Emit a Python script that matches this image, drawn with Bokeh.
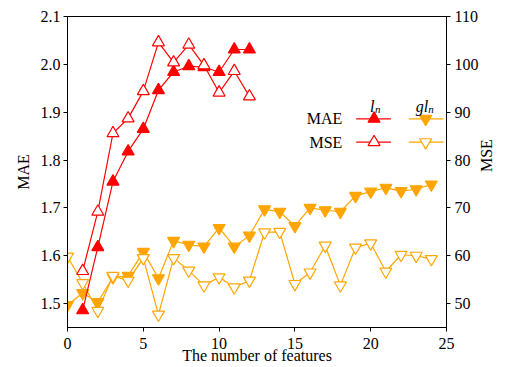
import math
from bokeh.plotting import figure
from bokeh.models import Range1d, LinearAxis, FixedTicker, Label, PrintfTickFormatter
from bokeh.embed import file_html
from bokeh.resources import INLINE

# ---------------- data ----------------
features_ln = [1, 2, 3, 4, 5, 6, 7, 8, 9, 10, 11, 12]
mae_ln = [1.486, 1.618, 1.755, 1.818, 1.865, 1.946, 1.984, 1.996, 1.994, 1.984, 2.031, 2.031]
mse_ln = [56.8, 69.2, 85.6, 88.7, 94.4, 104.6, 100.4, 104.1, 99.8, 94.1, 98.6, 93.3]

features_gln = list(range(0, 25))
mae_gln = [1.497, 1.522, 1.503, 1.555, 1.558, 1.608, 1.553, 1.631, 1.623, 1.619,
           1.658, 1.619, 1.642, 1.697, 1.692, 1.662, 1.700, 1.695, 1.692, 1.725,
           1.734, 1.742, 1.735, 1.739, 1.749]
mse_gln = [59.8, 54.3, 48.5, 55.8, 54.8, 59.5, 47.7, 59.5, 56.9, 53.8,
           55.5, 53.4, 54.8, 64.9, 65.0, 54.1, 56.5, 62.1, 53.8, 61.7,
           62.6, 56.7, 60.2, 60.0, 59.3]

x_ticks = [0, 5, 10, 15, 20, 25]
mae_ticks = [1.5, 1.6, 1.7, 1.8, 1.9, 2.0, 2.1]
mse_ticks = [50, 60, 70, 80, 90, 100, 110]

x_label = "The number of features"
left_label = "MAE"
right_label = "MSE"
row_labels = ["MAE", "MSE"]

RED = "#ff0000"
ORANGE = "#ffa500"
FONT = "Liberation Serif"

X_MIN, X_MAX = 0, 25
MAE_MIN, MAE_MAX = 1.45, 2.1
MSE_MIN, MSE_MAX = 45, 110

# page geometry of the frame (for placing legend decorations)
FL, FR, FT, FB = 67, 449, 16, 327


def dx(px):
    return X_MIN + (px - FL) / (FR - FL) * (X_MAX - X_MIN)


def dy(py):
    return MAE_MAX - (py - FT) / (FB - FT) * (MAE_MAX - MAE_MIN)


p = figure(width=506, height=367,
           x_range=Range1d(X_MIN, X_MAX), y_range=Range1d(MAE_MIN, MAE_MAX),
           output_backend="svg", toolbar_location=None,
           min_border_left=67, min_border_right=57,
           min_border_top=16, min_border_bottom=40)
p.extra_y_ranges = {"mse": Range1d(MSE_MIN, MSE_MAX)}
yr = LinearAxis(y_range_name="mse")
p.add_layout(yr, "right")
xa = p.xaxis[0]
yl = p.yaxis[0]

p.xgrid.visible = False
p.ygrid.visible = False
p.outline_line_color = "black"
p.outline_line_width = 1
p.outline_line_alpha = 1
p.background_fill_color = "white"
p.border_fill_color = "white"

xa.ticker = FixedTicker(ticks=x_ticks)
yl.ticker = FixedTicker(ticks=mae_ticks)
yl.formatter = PrintfTickFormatter(format="%.1f")
yr.ticker = FixedTicker(ticks=mse_ticks)

xa.axis_label = x_label
yl.axis_label = left_label
yr.axis_label = right_label

for ax in (xa, yl, yr):
    ax.major_tick_out = 4
    ax.major_tick_in = 0
    ax.minor_tick_out = 0
    ax.minor_tick_in = 0
    ax.axis_line_color = "black"
    ax.major_tick_line_color = "black"
    ax.major_label_text_font = FONT
    ax.major_label_text_font_size = "16px"
    ax.major_label_text_font_style = "normal"
    ax.major_label_text_color = "black"
    ax.axis_label_text_font = FONT
    ax.axis_label_text_font_size = "16px"
    ax.axis_label_text_font_style = "normal"
    ax.axis_label_text_color = "black"

xa.major_label_standoff = 6
xa.axis_label_standoff = -5
yl.major_label_standoff = 3
yl.axis_label_standoff = 6
yr.major_label_standoff = 4
yr.axis_label_standoff = 5
try:
    yr.axis_label_orientation = math.pi / 2
except Exception:
    pass

LW = 1.2
MS = 12

# gl_n series
p.line(features_gln, mae_gln, line_color=ORANGE, line_width=LW)
p.scatter(features_gln, mae_gln, marker="inverted_triangle", size=MS,
          fill_color=ORANGE, line_color=ORANGE, line_width=LW)
p.line(features_gln, mse_gln, line_color=ORANGE, line_width=LW, y_range_name="mse")
p.scatter(features_gln, mse_gln, marker="inverted_triangle", size=MS,
          fill_color="white", line_color=ORANGE, line_width=LW, y_range_name="mse")

# l_n series
p.line(features_ln, mae_ln, line_color=RED, line_width=LW)
p.scatter(features_ln, mae_ln, marker="triangle", size=MS,
          fill_color=RED, line_color=RED, line_width=LW)
p.line(features_ln, mse_ln, line_color=RED, line_width=LW, y_range_name="mse")
p.scatter(features_ln, mse_ln, marker="triangle", size=MS,
          fill_color="white", line_color=RED, line_width=LW, y_range_name="mse")

# ---- legend table ----
rows_py = [118.3, 141.7]
for ry, lab in zip(rows_py, row_labels):
    p.add_layout(Label(x=dx(344), y=dy(ry), text=lab, text_align="right",
                       text_baseline="middle", text_font=FONT,
                       text_font_size="16px", text_color="black"))
for ry, fill in zip(rows_py, [RED, "white"]):
    p.line([dx(358), dx(393)], [dy(ry), dy(ry)], line_color=RED, line_width=LW)
    p.scatter([dx(376)], [dy(ry)], marker="triangle", size=MS,
              fill_color=fill, line_color=RED, line_width=LW)
for ry, fill in zip(rows_py, [ORANGE, "white"]):
    p.line([dx(411), dx(446)], [dy(ry), dy(ry)], line_color=ORANGE, line_width=LW)
    p.scatter([dx(428)], [dy(ry)], marker="inverted_triangle", size=MS,
              fill_color=fill, line_color=ORANGE, line_width=LW)

# column headers (italic with subscript)
p.add_layout(Label(x=dx(372), y=dy(105.5), text="l", text_align="left",
                   text_baseline="alphabetic", text_font=FONT, text_font_style="italic",
                   text_font_size="16px", text_color="black"))
p.add_layout(Label(x=dx(377), y=dy(108), text="n", text_align="left",
                   text_baseline="alphabetic", text_font=FONT, text_font_style="italic",
                   text_font_size="11px", text_color="black"))
p.add_layout(Label(x=dx(418), y=dy(105.5), text="gl", text_align="left",
                   text_baseline="alphabetic", text_font=FONT, text_font_style="italic",
                   text_font_size="16px", text_color="black"))
p.add_layout(Label(x=dx(430.5), y=dy(108), text="n", text_align="left",
                   text_baseline="alphabetic", text_font=FONT, text_font_style="italic",
                   text_font_size="11px", text_color="black"))

open("out.html", "w").write(file_html(p, INLINE))
